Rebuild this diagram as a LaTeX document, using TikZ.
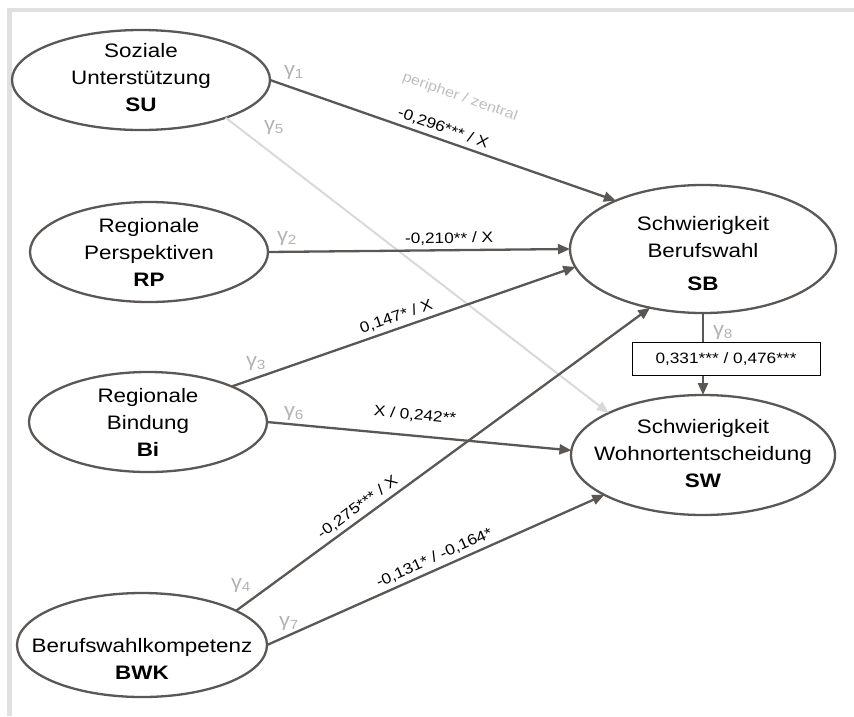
\documentclass[tikz,border=0pt]{standalone}
\usepackage{fontspec}
\setmainfont[FakeStretch=1.15]{Liberation Sans}
\usetikzlibrary{shapes.geometric,arrows.meta}
\definecolor{edgegray}{RGB}{90,87,84}
\definecolor{framegray}{RGB}{224,224,224}
\definecolor{lightpath}{RGB}{217,217,217}
\definecolor{gammagray}{RGB}{178,178,178}
\definecolor{notegray}{RGB}{190,190,190}
\begin{document}
\begin{tikzpicture}[x=1pt,y=-1pt,
  latent/.style={ellipse, draw=edgegray, line width=2.3pt, inner sep=0pt, outer sep=0pt},
  lbl/.style={align=center, font=\fontsize{19.5}{27}\selectfont, inner sep=0pt},
  path/.style={draw=edgegray, line width=2.3pt, -{Triangle[length=12pt,width=10pt]}},
  weak/.style={draw=lightpath, line width=2pt, -{Triangle[length=12pt,width=10pt]}},
  coef/.style={font=\fontsize{15}{17}\selectfont, sloped, above=3pt, inner sep=1pt},
  gam/.style={text=gammagray, font=\fontsize{19}{20}\selectfont, inner sep=0pt},
  coefbox/.style={draw=black, line width=1pt, fill=white, font=\fontsize{15}{17}\selectfont,
    minimum width=188pt, minimum height=33pt, inner sep=0pt}]
\useasboundingbox (0,0) rectangle (854,716);
% light frame along the top and left edges
\fill[framegray] (7,8) rectangle (854,12);
\fill[framegray] (7,8) rectangle (12,716);

% latent variables
\node[latent, minimum width=258pt, minimum height=100pt] (SU)  at (141,80)  {};
\node[latent, minimum width=238pt, minimum height=100pt] (RP)  at (149,252) {};
\node[latent, minimum width=238pt, minimum height=100pt] (Bi)  at (148,422) {};
\node[latent, minimum width=250pt, minimum height=104pt] (BWK) at (142,645) {};
\node[latent, minimum width=266pt, minimum height=128pt] (SB)  at (703,249) {};
\node[latent, minimum width=264pt, minimum height=120pt] (SW)  at (703,455) {};

\node[lbl] (SUt)  at (141,78)  {Soziale\\Unterstützung\\\textbf{SU}};
\node[lbl] (RPt)  at (149,252) {Regionale\\Perspektiven\\\textbf{RP}};
\node[lbl] (Bit)  at (148,422) {Regionale\\Bindung\\\textbf{Bi}};
\node[lbl] (BWKt) at (142,659) {Berufswahlkompetenz\\\textbf{BWK}};
\node[lbl] (SBt)  at (703,254) {Schwierigkeit\\Berufswahl\\[6pt]\textbf{SB}};
\node[lbl] (SWt)  at (703,454) {Schwierigkeit\\Wohnortentscheidung\\\textbf{SW}};

% structural paths
\draw[weak] (SU.-24.2) -- (SW.156.2);
\draw[path] (SU.east) -- node[coef, pos=0.49] (c1) {-0,296***  / X} (SB.151.7);
\draw[path] (RP.east) -- node[coef, pos=0.6] (c2) {-0,210**  / X} (SB.west);
\draw[path] (Bi.23) -- node[coef, pos=0.49] (c3) {0,147*  / X} (SB.188.4);
\draw[path] (Bi.east) -- node[coef, pos=0.48, above=9pt] (c6) {X / 0,242**} (SW.178.3);
\draw[path] (BWK.20.1) -- node[coef, pos=0.31] (c4) {-0,275***  / X} (SB.228);
\draw[path] (BWK.east) -- node[coef, pos=0.51] (c7) {-0,131*  / -0,164*} (SW.202.2);
\draw[path] (SB.south) -- (SW.north);
\node[coefbox] (c8) at (726,359) {0,331***  / 0,476***};

\node[text=notegray, font=\fontsize{14}{16}\selectfont, rotate=-19.3] (note) at (460,97) {peripher / zentral};

% path labels
\node[gam] (g1) at (294,72)  {γ\textsubscript{1}};
\node[gam] (g5) at (274,127) {γ\textsubscript{5}};
\node[gam] (g2) at (287,238) {γ\textsubscript{2}};
\node[gam] (g3) at (256,363) {γ\textsubscript{3}};
\node[gam] (g6) at (294,413) {γ\textsubscript{6}};
\node[gam] (g4) at (241,585) {γ\textsubscript{4}};
\node[gam] (g7) at (289,623) {γ\textsubscript{7}};
\node[gam] (g8) at (723,332) {γ\textsubscript{8}};
\end{tikzpicture}
\end{document}
